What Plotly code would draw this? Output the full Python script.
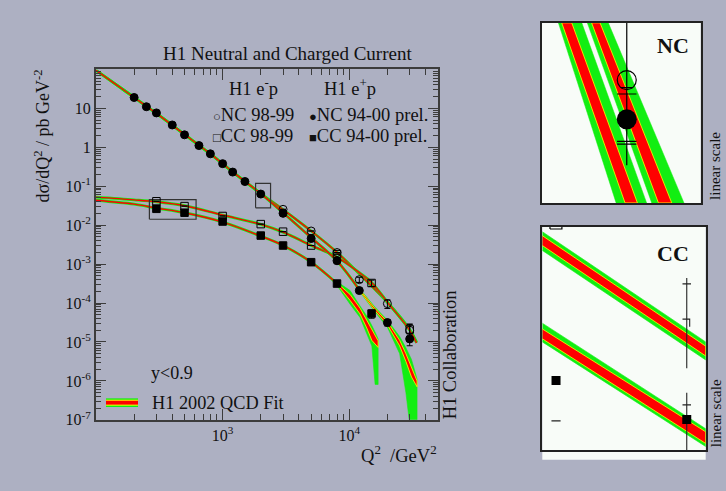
import plotly.graph_objects as go

# ---------------- data ----------------
# H1 e+p NC 94-00 prel. (filled circles)
nc_ep_q = [200, 250, 300, 400, 500, 650, 800, 1000, 1200, 1500, 2000, 3000, 5000, 8000, 12000, 20000, 30000]
nc_ep_s = [19.0, 11.0, 7.64, 3.74, 2.09, 1.107, 0.679, 0.380, 0.231, 0.132, 0.0630, 0.0201, 0.00457,
           0.00122, 2.09e-4, 3.16e-5, 1.20e-5]
nc_ep_err = [0, 0, 0, 0, 0, 0, 0, 0, 0, 0, 0, 0, 0, 1.0e-4, 2.5e-5, 6e-6, 4e-6]

# H1 e-p NC 98-99 (open circles)
nc_em_q = [3000, 5000, 8000, 12000, 20000, 30000]
nc_em_s = [0.0255, 0.00708, 0.00198, 3.98e-4, 9.66e-5, 2.0e-5]
nc_em_err = [0, 0, 0, 6e-5, 2.4e-5, 8e-6]

# H1 e-p CC 98-99 (open squares)
cc_em_q = [300, 500, 1000, 2000, 3000, 5000, 8000, 15000, 30000]
cc_em_s = [0.0411, 0.0309, 0.0172, 0.01064, 0.0068, 0.0030, 0.0018, 3.27e-4, 2.1e-5]
cc_em_err = [0, 0, 0, 0, 0, 0, 0, 6e-5, 8e-6]

# H1 e+p CC 94-00 prel. (filled squares)
cc_ep_q = [300, 500, 1000, 2000, 3000, 5000, 8000, 15000]
cc_ep_s = [0.0263, 0.0209, 0.0124, 0.0054, 0.0030, 0.00112, 3.16e-4, 5.37e-5]
cc_ep_err = [0, 0, 0, 0, 0, 0, 3e-5, 1.3e-5]

# H1 2002 QCD fit curves (thin parts)
fit_nc_em_q = [100, 150, 200, 300, 500, 800, 1200, 2000, 3000, 5000, 8000, 12000, 20000, 30000, 34000]
fit_nc_em_s = [94.4, 37.2, 19.05, 7.41, 2.14, 0.676, 0.234, 0.0646, 0.0251, 0.00708, 0.00200, 5.62e-4,
               1.05e-4, 2.09e-5, 1.0e-5]
fit_nc_ep_q = [100, 150, 200, 300, 500, 800, 1200, 2000, 3000, 5000, 8000, 12000]
fit_nc_ep_s = [94.4, 37.2, 19.05, 7.41, 2.14, 0.676, 0.234, 0.0646, 0.0209, 0.00479, 0.00120, 2.19e-4]
fit_cc_em_q = [100, 200, 300, 500, 1000, 2000, 3000, 5000, 8000, 12000, 15000, 20000, 30000, 34000]
fit_cc_em_s = [0.0525, 0.0447, 0.0398, 0.0316, 0.0182, 0.01047, 0.00661, 0.00302, 0.00151, 6.03e-4,
               3.39e-4, 1.05e-4, 2.0e-5, 9.5e-6]
fit_cc_ep_q = [100, 200, 300, 500, 1000, 2000, 3000, 5000, 8000]
fit_cc_ep_s = [0.0437, 0.0347, 0.0275, 0.0209, 0.0120, 0.00525, 0.00302, 0.00112, 3.16e-4]

# fit uncertainty bands near the kinematic limit
band_nc_ep_q = [12000, 16000, 20000, 25000, 28000, 31000, 34300]
band_nc_ep_ghi = [2.40e-4, 7.76e-5, 3.63e-5, 1.38e-5, 7.08e-6, 3.55e-6, 1.12e-6]
band_nc_ep_glo = [2.00e-4, 5.89e-5, 2.40e-5, 5.01e-6, 5.01e-7, 3.2e-8, 3.2e-8]
band_nc_ep_rhi = [2.29e-4, 7.24e-5, 3.31e-5, 1.10e-5, 5.01e-6, 2.19e-6, 1.0e-6]
band_nc_ep_rlo = [2.09e-4, 6.31e-5, 2.75e-5, 7.94e-6, 3.16e-6, 1.26e-6, 7.08e-7]

band_cc_ep_q = [8000, 10150, 12160, 13740, 15070, 15600, 16000, 16900]
band_cc_ep_ghi = [3.55e-4, 2.09e-4, 8.41e-5, 4.68e-5, 2.63e-5, 2.2e-5, 1.78e-5, 1.20e-5]
band_cc_ep_glo = [2.82e-4, 9.33e-5, 4.27e-5, 1.62e-5, 7.9e-6, 2.5e-6, 8.13e-7, 8.13e-7]
band_cc_ep_rhi = [3.31e-4, 1.66e-4, 7.41e-5, 3.63e-5, 1.95e-5, 1.65e-5, 1.41e-5, 1.07e-5]
band_cc_ep_rlo = [3.02e-4, 1.17e-4, 5.25e-5, 2.29e-5, 1.10e-5, 9.8e-6, 8.91e-6, 7.24e-6]

# zoom boxes in main plot
box_nc_q = [1820, 2390]
box_nc_s = [0.0279, 0.119]
box_cc_q = [264, 617]
box_cc_s = [0.0142, 0.0454]

# axis ticks
x_tickvals = [1000, 10000]
x_ticktext = ["10<sup>3</sup>", "10<sup>4</sup>"]
y_tickvals = [1e-7, 1e-6, 1e-5, 1e-4, 1e-3, 1e-2, 1e-1, 1, 10]
y_ticktext = ["10<sup>-7</sup>", "10<sup>-6</sup>", "10<sup>-5</sup>", "10<sup>-4</sup>", "10<sup>-3</sup>",
              "10<sup>-2</sup>", "10<sup>-1</sup>", "1", "10"]

# NC inset (linear scale, arbitrary units 0..100)
ins_nc_bandA_gx = [10.5, 25.2, 66.0, 46.8]
ins_nc_bandA_rx = [12.6, 18.9, 60.2, 52.4]
ins_nc_bandB_gx = [28.7, 41.9, 89.5, 69.2]
ins_nc_bandB_rx = [31.4, 36.7, 81.8, 73.4]
ins_band_y = [100, 100, 0, 0]
ins_nc_pt_x = [53.5]
ins_nc_open_y = [68.2]
ins_nc_fill_y = [46.4]
ins_nc_errline_y = [100, 20.9]
ins_nc_ticks_y = [64.0, 60.5, 34.2, 32.7]
ins_nc_ticks_hw = [3.8, 6.1, 6.1, 6.1]

# CC inset (linear scale, arbitrary units 0..100)
ins_cc_x = [0, 100]
ins_cc_up_ghi = [97.8, 48.4]
ins_cc_up_glo = [89.4, 40.3]
ins_cc_up_rhi = [96.0, 46.5]
ins_cc_up_rlo = [91.6, 42.1]
ins_cc_lo_ghi = [56.8, 9.5]
ins_cc_lo_glo = [48.4, 1.5]
ins_cc_lo_rhi = [54.2, 8.1]
ins_cc_lo_rlo = [49.8, 2.9]
ins_cc_sq_x = [8.4, 88.4]
ins_cc_sq_y = [31.1, 13.6]
ins_cc_err1_y = [25.6, -2]
ins_cc_err2_y = [77.0, 36.6]
ins_cc_ticks_y = [20.2, 74.4]

# ---------------- styling ----------------
BG = '#adb0c2'
GREEN = '#12ee12'
RED = '#ff0000'
YEL = '#ffff00'
AX = '#3c3c3c'
FONT = 'Liberation Serif'

fig = go.Figure()


def add(tr):
    fig.add_trace(tr)


def thin_fit(q, s):
    add(go.Scatter(x=q, y=s, mode='lines', line=dict(color=GREEN, width=2.8, shape='spline'),
                   hoverinfo='skip', showlegend=False))
    add(go.Scatter(x=q, y=s, mode='lines', line=dict(color=RED, width=1.4, shape='spline'),
                   hoverinfo='skip', showlegend=False))


def band(q, lo, hi, color, outline, xa='x', ya='y', lw=0.6):
    add(go.Scatter(x=list(q) + list(q)[::-1], y=list(hi) + list(lo)[::-1], fill='toself',
                   fillcolor=color, mode='lines', line=dict(color=outline, width=lw),
                   xaxis=xa, yaxis=ya, hoverinfo='skip', showlegend=False))


# fits
thin_fit(fit_nc_em_q, fit_nc_em_s)
thin_fit(fit_cc_em_q, fit_cc_em_s)
band(band_nc_ep_q, band_nc_ep_glo, band_nc_ep_ghi, GREEN, GREEN)
band(band_nc_ep_q, band_nc_ep_rlo, band_nc_ep_rhi, RED, YEL, lw=0.8)
band(band_cc_ep_q, band_cc_ep_glo, band_cc_ep_ghi, GREEN, GREEN)
band(band_cc_ep_q, band_cc_ep_rlo, band_cc_ep_rhi, RED, YEL, lw=0.8)
thin_fit(fit_nc_ep_q, fit_nc_ep_s)
thin_fit(fit_cc_ep_q, fit_cc_ep_s)

# zoom boxes
for bq, bs in ((box_nc_q, box_nc_s), (box_cc_q, box_cc_s)):
    add(go.Scatter(x=[bq[0], bq[1], bq[1], bq[0], bq[0]], y=[bs[0], bs[0], bs[1], bs[1], bs[0]],
                   mode='lines', line=dict(color='#333333', width=1.2), hoverinfo='skip', showlegend=False))


# data points
def pts(q, s, err, symbol, size=8):
    add(go.Scatter(x=q, y=s, mode='markers',
                   marker=dict(symbol=symbol, size=size, color='black',
                               line=dict(color='black', width=1)),
                   error_y=dict(type='data', array=err, color='black', thickness=1, width=3),
                   hoverinfo='skip', showlegend=False))


pts(nc_em_q, nc_em_s, nc_em_err, 'circle-open')
pts(cc_em_q, cc_em_s, cc_em_err, 'square-open', 7.5)
pts(nc_ep_q, nc_ep_s, nc_ep_err, 'circle')
pts(cc_ep_q, cc_ep_s, cc_ep_err, 'square', 7.5)

# ---------------- NC inset ----------------
for gx, rx in ((ins_nc_bandA_gx, ins_nc_bandA_rx), (ins_nc_bandB_gx, ins_nc_bandB_rx)):
    add(go.Scatter(x=gx + gx[:1], y=ins_band_y + ins_band_y[:1], fill='toself', fillcolor=GREEN,
                   mode='lines', line=dict(color=GREEN, width=0.5), xaxis='x2', yaxis='y2',
                   hoverinfo='skip', showlegend=False))
    add(go.Scatter(x=rx + rx[:1], y=ins_band_y + ins_band_y[:1], fill='toself', fillcolor=RED,
                   mode='lines', line=dict(color=YEL, width=0.8), xaxis='x2', yaxis='y2',
                   hoverinfo='skip', showlegend=False))
add(go.Scatter(x=ins_nc_pt_x * 2, y=ins_nc_errline_y, mode='lines', line=dict(color='black', width=1.2),
               xaxis='x2', yaxis='y2', hoverinfo='skip', showlegend=False))
for ty, hw in zip(ins_nc_ticks_y, ins_nc_ticks_hw):
    add(go.Scatter(x=[ins_nc_pt_x[0] - hw, ins_nc_pt_x[0] + hw], y=[ty, ty], mode='lines',
                   line=dict(color='black', width=1.2), xaxis='x2', yaxis='y2',
                   hoverinfo='skip', showlegend=False))
add(go.Scatter(x=ins_nc_pt_x, y=ins_nc_open_y, mode='markers',
               marker=dict(symbol='circle-open', size=19, color='black', line=dict(width=1.2)),
               xaxis='x2', yaxis='y2', hoverinfo='skip', showlegend=False))
add(go.Scatter(x=ins_nc_pt_x, y=ins_nc_fill_y, mode='markers',
               marker=dict(symbol='circle', size=20, color='black'),
               xaxis='x2', yaxis='y2', hoverinfo='skip', showlegend=False))

# ---------------- CC inset ----------------
band(ins_cc_x, ins_cc_up_glo, ins_cc_up_ghi, GREEN, GREEN, 'x3', 'y3')
band(ins_cc_x, ins_cc_up_rlo, ins_cc_up_rhi, RED, YEL, 'x3', 'y3', 0.8)
band(ins_cc_x, ins_cc_lo_glo, ins_cc_lo_ghi, GREEN, GREEN, 'x3', 'y3')
band(ins_cc_x, ins_cc_lo_rlo, ins_cc_lo_rhi, RED, YEL, 'x3', 'y3', 0.8)
xe = ins_cc_sq_x[1]
for ey in (ins_cc_err1_y, ins_cc_err2_y):
    add(go.Scatter(x=[xe, xe], y=ey, mode='lines', line=dict(color='#222222', width=1.1),
                   xaxis='x3', yaxis='y3', hoverinfo='skip', showlegend=False))
for ty in ins_cc_ticks_y:
    add(go.Scatter(x=[xe - 2.6, xe + 2.6], y=[ty, ty], mode='lines', line=dict(color='#222222', width=1.1),
                   xaxis='x3', yaxis='y3', hoverinfo='skip', showlegend=False))
add(go.Scatter(x=[xe - 2.6, xe + 1.8, xe + 1.8], y=[58.6, 58.6, 55.2], mode='lines',
               line=dict(color='#222222', width=1.1), xaxis='x3', yaxis='y3', hoverinfo='skip',
               showlegend=False))
add(go.Scatter(x=[ins_cc_sq_x[0] - 2.8, ins_cc_sq_x[0] + 2.8], y=[13.0, 13.0], mode='lines',
               line=dict(color='#222222', width=1.1), xaxis='x3', yaxis='y3', hoverinfo='skip',
               showlegend=False))
add(go.Scatter(x=[4.7, 12.0, 12.0, 4.7, 4.7], y=[99.0, 99.0, 101, 101, 99.0], mode='lines',
               line=dict(color='black', width=1.2), xaxis='x3', yaxis='y3', hoverinfo='skip',
               showlegend=False))
add(go.Scatter(x=ins_cc_sq_x, y=ins_cc_sq_y, mode='markers',
               marker=dict(symbol='square', size=9, color='black'),
               xaxis='x3', yaxis='y3', hoverinfo='skip', showlegend=False))

# ---------------- layout ----------------
W, H = 726, 491


def px(xp):
    return xp / W


def py(yp):
    return (H - yp) / H


minor_x = [m * 10 ** e for e in (2, 3, 4) for m in range(2, 10) if m * 10 ** e < 50000]
minor_y = [m * 10.0 ** e for e in range(-7, 2) for m in range(2, 10)]

tickfont = dict(family=FONT, size=16, color='#111111')
fig.update_layout(
    width=W, height=H, autosize=False, margin=dict(l=0, r=0, t=0, b=0),
    paper_bgcolor=BG, plot_bgcolor='rgba(0,0,0,0)', showlegend=False,
    xaxis=dict(type='log', range=[2, 4.703], domain=[px(96), px(438.3)], anchor='y',
               showline=True, linecolor=AX, linewidth=2, mirror='allticks',
               ticks='inside', ticklen=11, tickwidth=1.4, tickcolor=AX,
               tickvals=x_tickvals, ticktext=x_ticktext, tickfont=tickfont,
               minor=dict(ticks='inside', ticklen=6, tickwidth=1.2, tickcolor=AX, tickvals=minor_x),
               showgrid=False, zeroline=False),
    yaxis=dict(type='log', range=[-7, 2], domain=[py(427.7), py(70.7)], anchor='x',
               showline=True, linecolor=AX, linewidth=2, mirror='allticks',
               ticks='inside', ticklen=10, tickwidth=1.4, tickcolor=AX,
               tickvals=y_tickvals, ticktext=y_ticktext, tickfont=tickfont,
               minor=dict(ticks='inside', ticklen=5, tickwidth=1.1, tickcolor=AX, tickvals=minor_y),
               showgrid=False, zeroline=False),
    xaxis2=dict(range=[0, 100], domain=[px(541.7), px(700.7)], anchor='y2', showline=True,
                linecolor='#222222', linewidth=1.5, mirror=True, showticklabels=False, ticks='',
                showgrid=False, zeroline=False),
    yaxis2=dict(range=[0, 100], domain=[py(206.7), py(23.3)], anchor='x2', showline=True,
                linecolor='#222222', linewidth=1.5, mirror=True, showticklabels=False, ticks='',
                showgrid=False, zeroline=False),
    xaxis3=dict(range=[0, 100], domain=[px(542.3), px(705.7)], anchor='y3', showline=True,
                linecolor='#222222', linewidth=1.5, mirror=True, showticklabels=False, ticks='',
                showgrid=False, zeroline=False),
    yaxis3=dict(range=[0, 100], domain=[py(458.3), py(231)], anchor='x3', showline=True,
                linecolor='#222222', linewidth=1.5, mirror=True, showticklabels=False, ticks='',
                showgrid=False, zeroline=False),
)

shapes = [
    dict(type='rect', xref='paper', yref='paper', x0=px(541.7), x1=px(700.7), y0=py(206.7), y1=py(23.3),
         fillcolor='#f8fcf8', line=dict(width=0), layer='below'),
    dict(type='rect', xref='paper', yref='paper', x0=px(542.3), x1=px(705.7), y0=py(468.3), y1=py(231),
         fillcolor='#f8fcf8', line=dict(width=0), layer='below'),
    # legend swatch for the QCD fit
    dict(type='rect', xref='paper', yref='paper', x0=px(106), x1=px(138), y0=py(414.6), y1=py(405.8),
         fillcolor=GREEN, line=dict(width=0)),
    dict(type='rect', xref='paper', yref='paper', x0=px(106), x1=px(138), y0=py(413.2), y1=py(407.2),
         fillcolor=YEL, line=dict(width=0)),
    dict(type='rect', xref='paper', yref='paper', x0=px(106), x1=px(138), y0=py(412.2), y1=py(408.2),
         fillcolor=RED, line=dict(width=0)),
]
fig.update_layout(shapes=shapes)


def txt(text, x, y, size=15, xanchor='center', angle=0, bold=False, xref='paper', yref='paper'):
    return dict(text=('<b>%s</b>' % text) if bold else text, x=x, y=y, xref=xref, yref=yref,
                xanchor=xanchor, yanchor='middle', showarrow=False, textangle=angle,
                font=dict(family=FONT, size=size, color='#111111'))


sym = "<span style='font-size:13px'>%s</span>"
annotations = [
    txt('H1 Neutral and Charged Current', px(287), py(55), 19),
    txt('H1 e<sup>-</sup>p', px(253), py(89), 18.5),
    txt('H1 e<sup>+</sup>p', px(350), py(89), 18.5),
    txt(sym % '○' + 'NC 98-99', px(211), py(117), 18.5, 'left'),
    txt(sym % '□' + 'CC 98-99', px(211), py(139), 18.5, 'left'),
    txt(sym % '●' + 'NC 94-00 prel.', px(307), py(117), 18.5, 'left'),
    txt(sym % '■' + 'CC 94-00 prel.', px(307), py(139), 18.5, 'left'),
    txt('y&lt;0.9', px(172), py(380), 18),
    txt('H1 2002 QCD Fit', px(150), py(411), 18.3, 'left'),
    txt('Q<sup>2</sup>  /GeV<sup>2</sup>', px(439), py(462), 18.5, 'right'),
    txt('dσ/dQ<sup>2</sup> / pb GeV<sup>-2</sup>', px(42), py(139), 18, angle=-90),
    txt('H1 Collaboration', px(450), py(362), 18.5, angle=-90),
    txt('linear scale', px(715), py(169), 15, angle=-90),
    txt('linear scale', px(716), py(421), 15, angle=-90),
    txt('NC', 82.8, 87.3, 22, bold=True, xref='x2', yref='y2'),
    txt('CC', 80.2, 88.0, 22, bold=True, xref='x3', yref='y3'),
]
fig.update_layout(annotations=annotations)

fig.write_html("out.html")
